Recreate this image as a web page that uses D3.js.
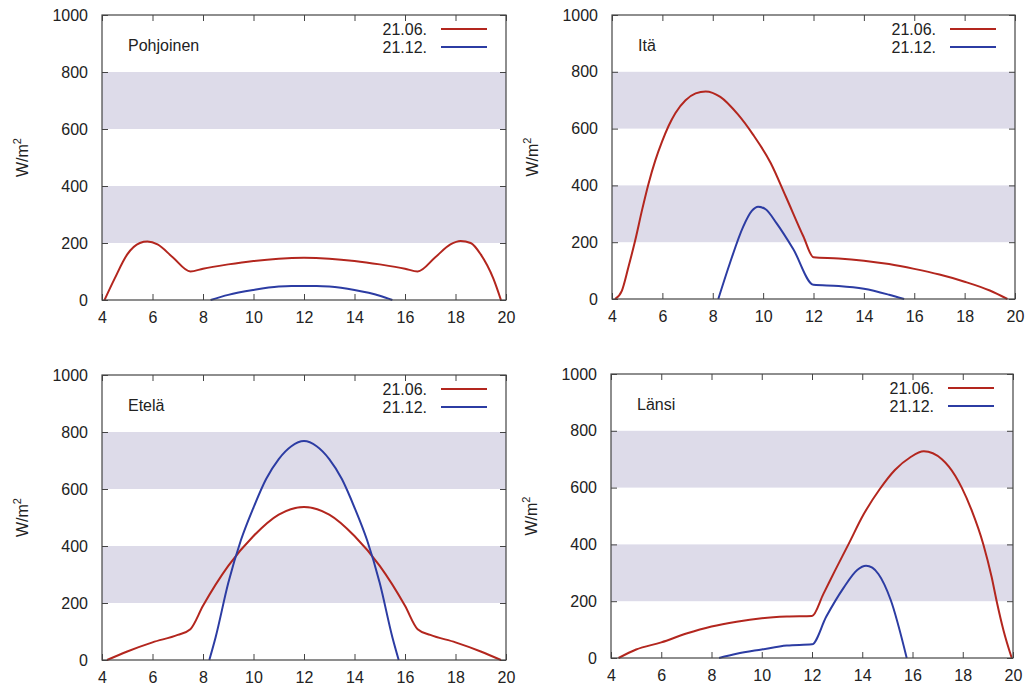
<!DOCTYPE html>
<html>
<head>
<meta charset="utf-8">
<script src="https://cdn.jsdelivr.net/npm/d3@7"></script>
<style>
    body { margin: 0; background: #ffffff; }
    #space { width: 1033px; height: 691px; }
</style>
</head>
<body>
<div id="space"></div>
<script>
// hour of day, W/m2  (21.06. = kesäkuu, 21.12. = joulukuu)
var pohjoinen_jun = [[4.1, 0], [4.5, 75], [5, 160], [5.5, 200], [5.8, 205], [6.2, 195], [6.8, 150], [7.5, 100], [8, 110], [9, 125], [10, 137], [11, 145], [12, 148], [13, 145], [14, 137], [15, 125], [16, 110], [16.5, 100], [17.2, 150], [17.8, 195], [18.2, 207], [18.6, 200], [19, 160], [19.5, 75], [19.8, 0]];
var pohjoinen_dec = [[8.3, 0], [9, 18], [10, 35], [11, 47], [11.5, 49], [12.5, 49], [13, 47], [14, 35], [15, 15], [15.5, 0]];

var ita_jun = [[4.12, 0], [4.39, 29], [4.65, 112], [4.92, 206], [5.19, 312], [5.45, 406], [5.72, 488], [5.99, 555], [6.25, 610], [6.52, 655], [6.92, 700], [7.32, 724], [7.72, 731], [8.3, 712], [9, 650], [9.6, 579], [10.3, 479], [10.9, 361], [11.6, 220], [12, 147], [13, 143], [14, 135], [15, 123], [16, 106], [17, 86], [18, 61], [19, 30], [19.7, 0]];
var ita_dec = [[8.22, 0], [8.68, 126], [9.21, 255], [9.55, 310], [9.8, 325], [10.1, 316], [10.53, 267], [11.2, 175], [12, 50], [13, 46], [14, 36], [15, 15], [15.6, 0]];

var etela_jun = [[4.2, 0], [5, 30], [6, 62], [7, 88], [7.5, 108], [8, 190], [9, 330], [10, 435], [11, 510], [12, 537], [13, 510], [14, 435], [15, 330], [16, 190], [16.5, 108], [17, 88], [18, 62], [19, 30], [19.8, 0]];
var etela_dec = [[8.25, 0], [8.5, 80], [9, 270], [9.5, 420], [10, 535], [10.5, 635], [11, 705], [11.5, 750], [12, 768], [12.5, 750], [13, 705], [13.5, 635], [14, 535], [14.5, 420], [15, 270], [15.5, 80], [15.75, 0]];

var lansi_jun = [[4.3, 0], [5, 30], [6, 55], [7, 86], [8, 111], [9, 128], [10, 140], [11, 146], [12, 148], [12.45, 225], [12.9, 305], [13.45, 400], [14.05, 505], [14.7, 595], [15.3, 662], [15.9, 706], [16.45, 728], [17.17, 700], [17.7, 642], [17.96, 600], [18.36, 519], [18.82, 400], [19.15, 285], [19.35, 200], [19.62, 98], [19.95, 0]];
var lansi_dec = [[8.3, 0], [9, 15], [10, 30], [11, 44], [12, 48], [12.57, 146], [13.25, 246], [13.8, 310], [14.15, 325], [14.4, 318], [14.65, 295], [15.13, 205], [15.77, 0]];

var panel_names = ["Pohjoinen", "Itä", "Etelä", "Länsi"];
var series_names = ["21.06.", "21.12."];
var x_ticks = [4, 6, 8, 10, 12, 14, 16, 18, 20];
var y_ticks = [0, 200, 400, 600, 800, 1000];
var bands = [[200, 400], [600, 800]];

var panel_data = [
    [pohjoinen_jun, pohjoinen_dec],
    [ita_jun, ita_dec],
    [etela_jun, etela_dec],
    [lansi_jun, lansi_dec]
];

// plot box of every panel in the page (left, top, right, bottom)
var boxes = [
    [102, 15, 506, 300],
    [612, 15, 1015, 299],
    [102, 375, 506, 660],
    [611, 374, 1013, 658]
];

var colors = ["#b3261e", "#2c3ca3"];
var font = "'Liberation Sans', Arial, Helvetica, sans-serif";
var svg;

init();

function init() {
    svg = d3.select("#space").append("svg")
        .attr("xmlns", "http://www.w3.org/2000/svg")
        .attr("width", 1033)
        .attr("height", 691);

    for (var i = 0; i < boxes.length; i++) {
        drawPanel(i);
    }
}

function drawPanel(idx) {
    var b = boxes[idx];
    var w = b[2] - b[0], h = b[3] - b[1];

    var x = d3.scaleLinear().domain([4, 20]).range([0, w]);
    var y = d3.scaleLinear().domain([0, 1000]).range([h, 0]);

    var g = svg.append("g").attr("transform", "translate(" + b[0] + "," + b[1] + ")");

    //Shaded bands
    g.selectAll("rect.band")
        .data(bands)
        .enter().append("rect")
        .attr("class", "band")
        .attr("x", 0)
        .attr("width", w)
        .attr("y", function (d) { return y(d[1]); })
        .attr("height", function (d) { return y(d[0]) - y(d[1]); })
        .attr("fill", "#dddbe9");

    //Axes, gnuplot style: ticks inward on all sides
    var tickLen = 6;
    var ax_b = g.append("g").attr("transform", "translate(0," + h + ")")
        .call(d3.axisBottom(x).tickValues(x_ticks).tickSize(-tickLen).tickPadding(12).tickFormat(d3.format("d")));
    var ax_t = g.append("g")
        .call(d3.axisTop(x).tickValues(x_ticks).tickSize(-tickLen).tickFormat(""));
    var ax_l = g.append("g")
        .call(d3.axisLeft(y).tickValues(y_ticks).tickSize(-tickLen).tickPadding(14).tickFormat(d3.format("d")));
    var ax_r = g.append("g").attr("transform", "translate(" + w + ",0)")
        .call(d3.axisRight(y).tickValues(y_ticks).tickSize(-tickLen).tickFormat(""));

    [ax_b, ax_t, ax_l, ax_r].forEach(function (a) {
        a.select(".domain").remove();
        a.selectAll("line").attr("stroke", "#444").attr("stroke-width", 1);
        a.selectAll("text")
            .attr("font-family", font)
            .attr("font-size", 16)
            .attr("fill", "#222");
    });
    ax_b.selectAll("text").attr("dy", "0.71em");

    //Curves
    var line = d3.line()
        .x(function (d) { return x(d[0]); })
        .y(function (d) { return y(d[1]); })
        .curve(d3.curveMonotoneX);

    var series = panel_data[idx];
    for (var s = 0; s < series.length; s++) {
        g.append("path")
            .datum(series[s])
            .attr("d", line)
            .attr("fill", "none")
            .attr("stroke", colors[s])
            .attr("stroke-width", 2);
    }

    //Border
    g.append("rect")
        .attr("x", 0).attr("y", 0)
        .attr("width", w).attr("height", h)
        .attr("fill", "none")
        .attr("stroke", "#444")
        .attr("stroke-width", 1.2);

    //Panel title
    g.append("text")
        .attr("x", 26)
        .attr("y", 36)
        .attr("font-family", font)
        .attr("font-size", 16)
        .attr("fill", "#222")
        .text(panel_names[idx]);

    //Legend
    for (var k = 0; k < series_names.length; k++) {
        g.append("text")
            .attr("x", w - 79)
            .attr("y", 20 + k * 18)
            .attr("text-anchor", "end")
            .attr("font-family", font)
            .attr("font-size", 16)
            .attr("fill", "#222")
            .text(series_names[k]);
        g.append("line")
            .attr("x1", w - 65).attr("x2", w - 19)
            .attr("y1", 14 + k * 18).attr("y2", 14 + k * 18)
            .attr("stroke", colors[k])
            .attr("stroke-width", 2);
    }

    //Y label W/m2
    var lab = g.append("text")
        .attr("transform", "translate(" + (-74) + "," + (h / 2) + ") rotate(-90)")
        .attr("text-anchor", "middle")
        .attr("font-family", font)
        .attr("font-size", 16)
        .attr("fill", "#222");
    lab.append("tspan").text("W/m");
    lab.append("tspan").attr("dy", -7).attr("font-size", 11).text("2");
}
</script>
</body>
</html>
